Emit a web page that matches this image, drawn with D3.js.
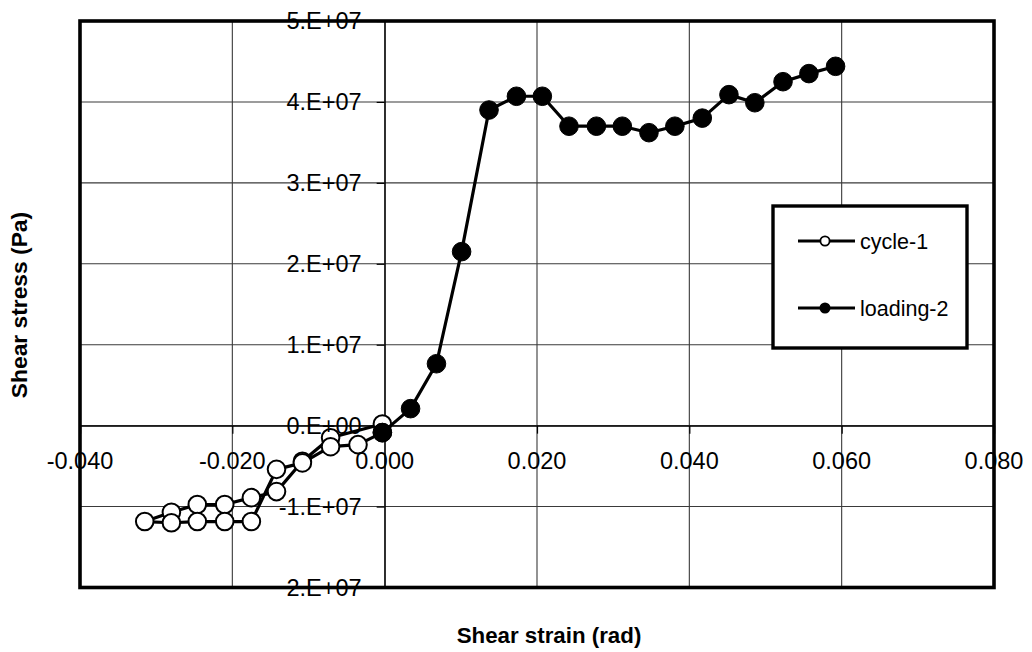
<!DOCTYPE html>
<html>
<head>
<meta charset="utf-8">
<script src="https://cdn.jsdelivr.net/npm/d3@7"></script>
<style>
  html, body { margin: 0; padding: 0; background: #fff; }
  svg { display: block; }
  text { font-family: "Liberation Sans", Arial, sans-serif; }
</style>
</head>
<body>
<svg id="chart" width="1032" height="652"></svg>
<script>
// ---- data ----
const cycle1Strain = [-0.0003, -0.0071, -0.0108, -0.0142, -0.0175, -0.0210, -0.0246, -0.0280, -0.0315,
                      -0.0280, -0.0246, -0.0210, -0.0175, -0.0142, -0.0108, -0.0071, -0.0035, -0.0003];
const cycle1Stress = [0.2e6, -1.5e6, -4.4e6, -8.15e6, -8.9e6, -9.75e6, -9.75e6, -10.7e6, -11.85e6,
                      -12.0e6, -11.85e6, -11.85e6, -11.85e6, -5.4e6, -4.6e6, -2.6e6, -2.35e6, -0.86e6];
const loading2Strain = [-0.0003, 0.0034, 0.0068, 0.0101, 0.0137, 0.0173, 0.0207, 0.0242, 0.0278,
                        0.0312, 0.0347, 0.0381, 0.0417, 0.0452, 0.0486, 0.0523, 0.0557, 0.0592];
const loading2Stress = [-0.86e6, 2.1e6, 7.65e6, 21.5e6, 39.0e6, 40.7e6, 40.7e6, 37.0e6, 37.0e6,
                        37.0e6, 36.2e6, 37.0e6, 38.0e6, 40.9e6, 39.9e6, 42.5e6, 43.5e6, 44.4e6];
const xTickValues = [-0.04, -0.02, 0.0, 0.02, 0.04, 0.06, 0.08];
const xTickLabels = ["-0.040", "-0.020", "0.000", "0.020", "0.040", "0.060", "0.080"];
const yTickValues = [-2e7, -1e7, 0, 1e7, 2e7, 3e7, 4e7, 5e7];
const yTickLabels = ["2.E+07", "-1.E+07", "0.E+00", "1.E+07", "2.E+07", "3.E+07", "4.E+07", "5.E+07"];
const seriesNames = ["cycle-1", "loading-2"];

// ---- layout ----
const svg = d3.select("#chart");
const L = 80, R = 994, T = 21, B = 587.5;
const x = d3.scaleLinear().domain([-0.04, 0.08]).range([L, R]);
const y = d3.scaleLinear().domain([-2e7, 5e7]).range([B, T]);

// gridlines
const grid = svg.append("g");
grid.selectAll("line.gx").data(xTickValues).join("line")
  .attr("x1", d => x(d)).attr("x2", d => x(d)).attr("y1", T).attr("y2", B)
  .attr("stroke", "#3a3a3a").attr("stroke-width", 1.1);
grid.selectAll("line.gy").data(yTickValues).join("line")
  .attr("y1", d => y(d)).attr("y2", d => y(d)).attr("x1", L).attr("x2", R)
  .attr("stroke", "#3a3a3a").attr("stroke-width", 1.1);

// axes through zero
const yAxis = d3.axisLeft(y).tickValues(yTickValues).tickSize(8).tickFormat("");
const gy = svg.append("g").attr("transform", `translate(${x(0)},0)`).call(yAxis);
gy.select(".domain").attr("stroke", "#000").attr("stroke-width", 1.2);
gy.selectAll(".tick line").attr("stroke", "#000").attr("stroke-width", 1.2);

const xAxis = d3.axisBottom(x).tickValues(xTickValues).tickSize(8).tickFormat("");
const gx = svg.append("g").attr("transform", `translate(0,${y(0)})`).call(xAxis);
gx.select(".domain").attr("stroke", "#000").attr("stroke-width", 1.2);
gx.selectAll(".tick line").attr("stroke", "#000").attr("stroke-width", 1.2);

// series
const c1 = cycle1Strain.map((v, i) => [v, cycle1Stress[i]]);
const l2 = loading2Strain.map((v, i) => [v, loading2Stress[i]]);
const line = d3.line().x(d => x(d[0])).y(d => y(d[1]));

svg.append("path").datum(c1).attr("d", line)
  .attr("fill", "none").attr("stroke", "#000").attr("stroke-width", 3.2).attr("stroke-linejoin", "round");
svg.append("g").selectAll("circle").data(c1).join("circle")
  .attr("cx", d => x(d[0])).attr("cy", d => y(d[1])).attr("r", 8.8)
  .attr("fill", "#fff").attr("stroke", "#000").attr("stroke-width", 2);

svg.append("path").datum(l2).attr("d", line)
  .attr("fill", "none").attr("stroke", "#000").attr("stroke-width", 3.2).attr("stroke-linejoin", "round");
svg.append("g").selectAll("circle").data(l2).join("circle")
  .attr("cx", d => x(d[0])).attr("cy", d => y(d[1])).attr("r", 9.3)
  .attr("fill", "#000").attr("stroke", "#000").attr("stroke-width", 1);

// tick labels
svg.append("g").selectAll("text").data(yTickValues).join("text")
  .attr("x", x(0) - 23).attr("y", d => y(d)).attr("dy", "0.35em")
  .attr("text-anchor", "end").attr("font-size", 23.5).attr("fill", "#000")
  .text((d, i) => yTickLabels[i]);
svg.append("g").selectAll("text").data(xTickValues).join("text")
  .attr("x", d => x(d)).attr("y", y(0) + 35).attr("dy", "0.35em")
  .attr("text-anchor", "middle").attr("font-size", 23.5).attr("fill", "#000")
  .text((d, i) => xTickLabels[i]);

// plot border
svg.append("rect").attr("x", L).attr("y", T).attr("width", R - L).attr("height", B - T)
  .attr("fill", "none").attr("stroke", "#000").attr("stroke-width", 3.6);

// axis titles
svg.append("text").attr("x", 549).attr("y", 643)
  .attr("text-anchor", "middle").attr("font-size", 22.3).attr("font-weight", "bold")
  .text("Shear strain (rad)");
svg.append("text").attr("transform", `translate(27,305) rotate(-90)`)
  .attr("text-anchor", "middle").attr("font-size", 22.8).attr("font-weight", "bold")
  .text("Shear stress (Pa)");

// legend
const lg = svg.append("g");
lg.append("rect").attr("x", 773).attr("y", 206).attr("width", 194).attr("height", 142)
  .attr("fill", "#fff").attr("stroke", "#000").attr("stroke-width", 3.4);
const legY = [241, 308];
seriesNames.forEach((name, i) => {
  lg.append("line").attr("x1", 798).attr("x2", 855).attr("y1", legY[i]).attr("y2", legY[i])
    .attr("stroke", "#000").attr("stroke-width", 3.2);
  lg.append("circle").attr("cx", 825).attr("cy", legY[i]).attr("r", 4.6)
    .attr("fill", i === 0 ? "#fff" : "#000").attr("stroke", "#000").attr("stroke-width", 1.8);
  lg.append("text").attr("x", 860).attr("y", legY[i]).attr("dy", "0.35em")
    .attr("font-size", 21.5).attr("fill", "#000").text(name);
});
</script>
</body>
</html>
